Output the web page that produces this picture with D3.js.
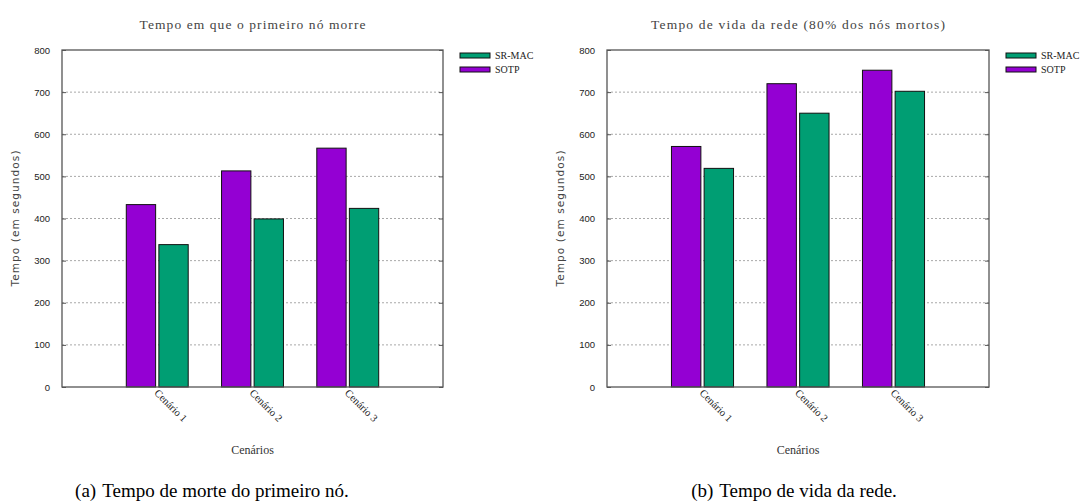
<!DOCTYPE html>
<html>
<head>
<meta charset="utf-8">
<script src="https://cdn.jsdelivr.net/npm/d3@7/dist/d3.min.js"></script>
<style>
  html, body { margin: 0; padding: 0; background: #fff; }
  svg { display: block; }
</style>
</head>
<body>
<svg id="fig" width="1083" height="503"></svg>
<script>
// Dados (tempo em segundos)
const categories = ['Cenário 1', 'Cenário 2', 'Cenário 3'];
const seriesNames = ['SOTP', 'SR-MAC'];
const legendOrder = ['SR-MAC', 'SOTP'];
const firstDeathSOTP = [433, 513, 567];
const firstDeathSRMAC = [338, 399, 424];
const lifetimeSOTP = [571, 720, 752];
const lifetimeSRMAC = [519, 650, 702];
const yTicks = [0, 100, 200, 300, 400, 500, 600, 700, 800];

const COLORS = { 'SOTP': '#9400d3', 'SR-MAC': '#009e73' };
const SERIF = "'Liberation Serif', 'Times New Roman', serif";
const SANS = "'Liberation Sans', Arial, sans-serif";

const svg = d3.select('#fig');

// um painel estilo gnuplot
function drawPanel(opt) {
  const g = svg.append('g');

  const x = d3.scaleLinear().domain([-1, 3]).range([opt.left, opt.right]);
  const y = d3.scaleLinear().domain([0, 800]).range([387, 50]);

  // grade pontilhada
  g.append('g')
    .selectAll('line')
    .data(yTicks.filter(t => t > 0 && t < 800))
    .join('line')
      .attr('x1', opt.left).attr('x2', opt.right)
      .attr('y1', d => y(d)).attr('y2', d => y(d))
      .attr('stroke', '#a8a8a8')
      .attr('stroke-width', 1)
      .attr('stroke-dasharray', '2,2');

  // barras
  const rows = categories.map((c, i) => ({ i, SOTP: opt.sotp[i], 'SR-MAC': opt.srmac[i] }));
  const offsets = { 'SOTP': -0.325, 'SR-MAC': 0.017 };
  const bw = 0.308;
  seriesNames.forEach(s => {
    g.append('g')
      .selectAll('rect')
      .data(rows)
      .join('rect')
        .attr('x', d => x(d.i + offsets[s]))
        .attr('width', x(bw) - x(0))
        .attr('y', d => y(d[s]))
        .attr('height', d => y(0) - y(d[s]))
        .attr('fill', COLORS[s])
        .attr('stroke', '#111')
        .attr('stroke-width', 1);
  });

  // moldura
  g.append('rect')
    .attr('x', opt.left).attr('y', y(800))
    .attr('width', opt.right - opt.left)
    .attr('height', y(0) - y(800))
    .attr('fill', 'none')
    .attr('stroke', '#555')
    .attr('stroke-width', 1.3);

  // eixo y
  const yAxis = d3.axisLeft(y).tickValues(yTicks).tickSize(-4).tickPadding(12);
  const ya = g.append('g').attr('transform', `translate(${opt.left},0)`).call(yAxis);
  ya.select('.domain').remove();
  ya.selectAll('.tick line').attr('stroke', '#555');
  ya.selectAll('.tick text')
    .attr('font-family', SANS)
    .attr('font-size', 9.5)
    .attr('fill', '#222');
  // ticks espelhados
  const yr = g.append('g').attr('transform', `translate(${opt.right},0)`)
    .call(d3.axisRight(y).tickValues(yTicks).tickSize(-4).tickFormat(''));
  yr.select('.domain').remove();
  yr.selectAll('.tick line').attr('stroke', '#555');

  // rótulos do eixo x (rotacionados)
  g.append('g')
    .selectAll('text')
    .data(categories)
    .join('text')
      .attr('transform', (d, i) => `translate(${x(i) + 1},${389}) rotate(45)`)
      .attr('font-family', SERIF)
      .attr('font-size', 10.5)
      .attr('fill', '#222')
      .attr('dy', '0.6em')
      .text(d => d);

  // título
  g.append('text')
    .attr('x', (opt.left + opt.right) / 2)
    .attr('y', 29)
    .attr('text-anchor', 'middle')
    .attr('font-family', SERIF)
    .attr('font-size', 13.5)
    .attr('fill', '#444')
    .attr('textLength', opt.titleLen)
    .text(opt.title);

  // rótulo y
  g.append('text')
    .attr('transform', `translate(${opt.left - 43},${(y(0) + y(800)) / 2}) rotate(-90)`)
    .attr('text-anchor', 'middle')
    .attr('font-family', "'DejaVu Sans', sans-serif")
    .attr('font-size', 10.5)
    .attr('fill', '#444')
    .attr('textLength', 136)
    .text('Tempo (em segundos)');

  // rótulo x
  g.append('text')
    .attr('x', (opt.left + opt.right) / 2)
    .attr('y', 454)
    .attr('text-anchor', 'middle')
    .attr('font-family', SERIF)
    .attr('font-size', 12)
    .attr('fill', '#333')
    .text('Cenários');

  // legenda
  const leg = g.append('g').attr('transform', `translate(${opt.right + 17},53)`);
  legendOrder.forEach((s, k) => {
    leg.append('rect')
      .attr('x', 0).attr('y', k * 14)
      .attr('width', 30).attr('height', 5)
      .attr('fill', COLORS[s])
      .attr('stroke', '#111')
      .attr('stroke-width', 1);
    leg.append('text')
      .attr('x', 35).attr('y', k * 14 + 6)
      .attr('font-family', SERIF)
      .attr('font-size', 10)
      .attr('fill', '#222')
      .text(s);
  });

  // legenda da subfigura
  const cap = svg.append('text')
    .attr('x', opt.capX)
    .attr('y', 497)
    .attr('text-anchor', 'middle')
    .attr('font-family', SERIF)
    .attr('font-size', 19)
    .attr('fill', '#000');
  cap.append('tspan').text(opt.capTag);
  cap.append('tspan').attr('dx', 6).text(opt.caption);
}

drawPanel({
  left: 62, right: 443,
  sotp: firstDeathSOTP, srmac: firstDeathSRMAC,
  title: 'Tempo em que o primeiro nó morre', titleLen: 226,
  capX: 212, capTag: '(a)', caption: 'Tempo de morte do primeiro nó.'
});

drawPanel({
  left: 607, right: 989,
  sotp: lifetimeSOTP, srmac: lifetimeSRMAC,
  title: 'Tempo de vida da rede (80% dos nós mortos)', titleLen: 294,
  capX: 794, capTag: '(b)', caption: 'Tempo de vida da rede.'
});
</script>
</body>
</html>
